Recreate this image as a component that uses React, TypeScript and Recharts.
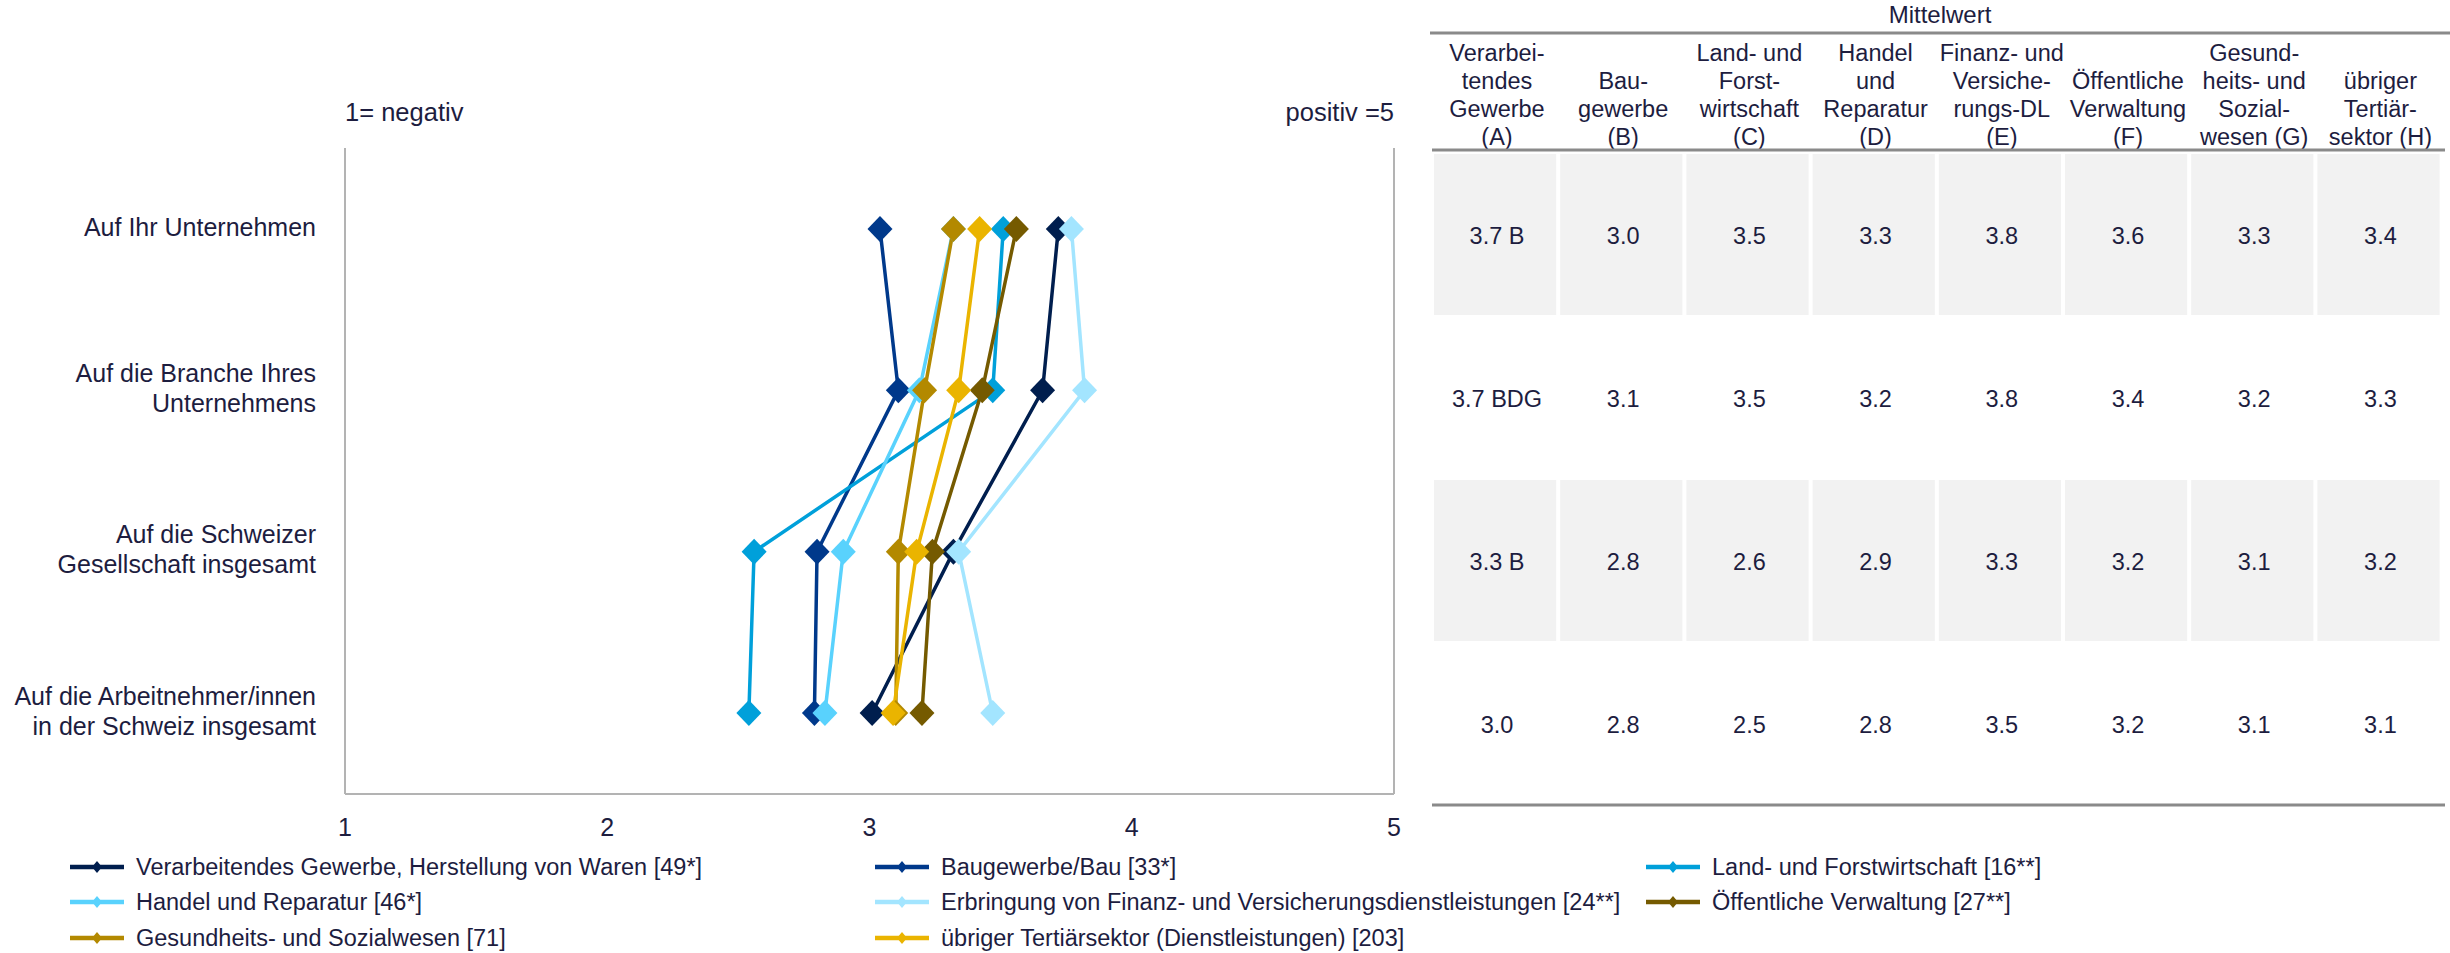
import React from "react";
import { LineChart, Line, XAxis, YAxis, ReferenceLine } from "recharts";

const FONT = "'Liberation Sans', Arial, sans-serif";
const TEXT = "#1d1d3f";
const GRID = "#b3b3b3";

const categories = [
  "Auf Ihr Unternehmen",
  "Auf die Branche Ihres\nUnternehmens",
  "Auf die Schweizer\nGesellschaft insgesamt",
  "Auf die Arbeitnehmer/innen\nin der Schweiz insgesamt",
];

// mean per question, one array per sector
const verarbeitendes = [3.72, 3.66, 3.32, 3.01];
const baugewerbe = [3.04, 3.11, 2.8, 2.79];
const landForst = [3.51, 3.47, 2.56, 2.54];
const handel = [3.32, 3.19, 2.9, 2.83];
const finanz = [3.77, 3.82, 3.34, 3.47];
const verwaltung = [3.56, 3.43, 3.24, 3.2];
const gesundheit = [3.32, 3.21, 3.11, 3.1];
const tertiaer = [3.42, 3.34, 3.18, 3.09];

const xTicks = [1, 2, 3, 4, 5];

// significance letters next to the sector A means
const signifA = ["B", "BDG", "B", ""];

const series = [
  { key: "a", name: "Verarbeitendes Gewerbe, Herstellung von Waren [49*]", color: "#001e4e", values: verarbeitendes, head: ["Verarbei-", "tendes", "Gewerbe", "(A)"] },
  { key: "b", name: "Baugewerbe/Bau [33*]", color: "#00398b", values: baugewerbe, head: ["Bau-", "gewerbe", "(B)"] },
  { key: "c", name: "Land- und Forstwirtschaft [16**]", color: "#00a0da", values: landForst, head: ["Land- und", "Forst-", "wirtschaft", "(C)"] },
  { key: "d", name: "Handel und Reparatur [46*]", color: "#59d2fd", values: handel, head: ["Handel", "und", "Reparatur", "(D)"] },
  { key: "e", name: "Erbringung von Finanz- und Versicherungsdienstleistungen [24**]", color: "#a3e5ff", values: finanz, head: ["Finanz- und", "Versiche-", "rungs-DL", "(E)"] },
  { key: "f", name: "Öffentliche Verwaltung [27**]", color: "#755a00", values: verwaltung, head: ["Öffentliche", "Verwaltung", "(F)"] },
  { key: "g", name: "Gesundheits- und Sozialwesen [71]", color: "#b38900", values: gesundheit, head: ["Gesund-", "heits- und", "Sozial-", "wesen (G)"] },
  { key: "h", name: "übriger Tertiärsektor (Dienstleistungen) [203]", color: "#eab400", values: tertiaer, head: ["übriger", "Tertiär-", "sektor (H)"] },
];

const data = categories.map((cat, i) => {
  const row: Record<string, any> = { cat };
  series.forEach((s) => (row[s.key] = s.values[i]));
  return row;
});

const Diamond = (props: any) => {
  const { cx, cy, stroke, index } = props;
  if (cx == null || cy == null) return <g key={index} />;
  return (
    <polygon
      key={index}
      points={`${cx},${cy - 13} ${cx + 12.5},${cy} ${cx},${cy + 13} ${cx - 12.5},${cy}`}
      fill={stroke}
    />
  );
};

const CategoryTick = ({ x, y, payload }: any) => {
  const lines = String(payload.value).split("\n");
  const start = -((lines.length - 1) * 30) / 2;
  return (
    <text x={x} y={y} textAnchor="end" fill={TEXT} fontSize={25} fontFamily={FONT}>
      {lines.map((l, i) => (
        <tspan key={i} x={x} y={y - 2 + start + i * 30} dy="0.35em">
          {l}
        </tspan>
      ))}
    </text>
  );
};

const ValueTick = ({ x, y, payload }: any) => (
  <text x={x} y={y + 33} dy="0.35em" textAnchor="middle" fill={TEXT} fontSize={25} fontFamily={FONT}>
    {payload.value}
  </text>
);

// table geometry
const TX = 1434;
const COL_W = 126.2;
const ROW_Y = [152, 315, 478, 641, 804];

function MeanTable() {
  return (
    <g fontFamily={FONT} fill={TEXT}>
      <text x={1940} y={15} dy="0.35em" textAnchor="middle" fontSize={24}>
        Mittelwert
      </text>
      <line x1={1430} x2={2450} y1={33} y2={33} stroke="#8a8a8a" strokeWidth={3} />
      {series.map((s, c) => {
        const cx = TX + c * COL_W + 63;
        const n = s.head.length;
        return (
          <g key={s.key}>
            {s.head.map((h, j) => (
              <text key={j} x={cx} y={137 - (n - 1 - j) * 28} dy="0.35em" textAnchor="middle" fontSize={23.5}>
                {h}
              </text>
            ))}
            {categories.map((_, r) => {
              const top = ROW_Y[r];
              const bottom = ROW_Y[r + 1];
              const label = s.values[r].toFixed(1) + (c === 0 && signifA[r] ? " " + signifA[r] : "");
              return (
                <g key={r}>
                  {r % 2 === 0 && (
                    <rect x={TX + c * COL_W} y={top + 2} width={COL_W - 4} height={bottom - top - 2} fill="#f2f2f2" />
                  )}
                  <text x={cx} y={(top + bottom) / 2 + 2} dy="0.35em" textAnchor="middle" fontSize={23.5}>
                    {label}
                  </text>
                </g>
              );
            })}
          </g>
        );
      })}
      <line x1={1432} x2={2445} y1={150} y2={150} stroke="#8a8a8a" strokeWidth={3} />
      <line x1={1432} x2={2445} y1={805} y2={805} stroke="#8a8a8a" strokeWidth={3} />
    </g>
  );
}

const legendColX = [70, 875, 1646];
const legendRowY = [867, 902, 938];

function SeriesLegend() {
  return (
    <g fontFamily={FONT}>
      {series.map((s, i) => {
        const x = legendColX[i % 3];
        const y = legendRowY[Math.floor(i / 3)];
        const mx = x + 27;
        return (
          <g key={s.key}>
            <line x1={x} x2={x + 54} y1={y} y2={y} stroke={s.color} strokeWidth={4.5} />
            <polygon points={`${mx},${y - 6} ${mx + 5},${y} ${mx},${y + 6} ${mx - 5},${y}`} fill={s.color} />
            <text x={x + 66} y={y} dy="0.35em" fontSize={23.5} fill={TEXT}>
              {s.name}
            </text>
          </g>
        );
      })}
    </g>
  );
}

export default function App() {
  return (
    <div style={{ position: "absolute", left: 0, top: 0, width: 2450, height: 953, background: "#fff", fontFamily: FONT }}>
      <svg width={2450} height={953} style={{ position: "absolute", left: 0, top: 0 }}>
        <text x={345} y={112} dy="0.35em" fontSize={25.5} fill={TEXT} fontFamily={FONT}>
          1= negativ
        </text>
        <text x={1394} y={112} dy="0.35em" textAnchor="end" fontSize={25.5} fill={TEXT} fontFamily={FONT}>
          positiv =5
        </text>
        <MeanTable />
        <SeriesLegend />
      </svg>
      <div style={{ position: "absolute", left: 0, top: 0 }}>
        <LineChart
          layout="vertical"
          width={1420}
          height={860}
          data={data}
          margin={{ top: 148, right: 26, bottom: 0, left: 0 }}
        >
          <XAxis
            type="number"
            domain={[1, 5]}
            ticks={xTicks}
            interval={0}
            allowDataOverflow
            height={66}
            axisLine={{ stroke: GRID, strokeWidth: 2 }}
            tickLine={false}
            tickSize={0}
            tickMargin={0}
            tick={<ValueTick />}
          />
          <YAxis
            type="category"
            dataKey="cat"
            width={345}
            interval={0}
            padding={{ top: 81, bottom: 81 }}
            axisLine={{ stroke: GRID, strokeWidth: 2 }}
            tickLine={false}
            tickSize={0}
            tickMargin={29}
            tick={<CategoryTick />}
          />
          <ReferenceLine x={5} stroke={GRID} strokeWidth={2} />
          {series.map((s) => (
            <Line
              key={s.key}
              type="linear"
              dataKey={s.key}
              name={s.name}
              stroke={s.color}
              strokeWidth={3.5}
              dot={<Diamond />}
              activeDot={false}
              isAnimationActive={false}
            />
          ))}
        </LineChart>
      </div>
    </div>
  );
}
